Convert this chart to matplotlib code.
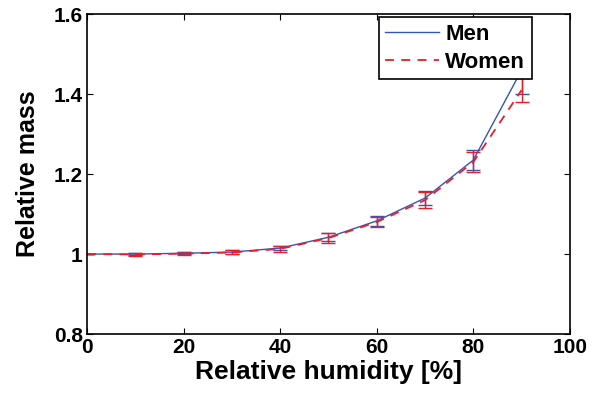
import numpy as np
import matplotlib
matplotlib.use('Agg')
import matplotlib.pyplot as plt

plt.rcParams['font.family'] = ['Liberation Sans', 'DejaVu Sans']
plt.rcParams['font.weight'] = 'bold'

humidity = [0, 10, 20, 30, 40, 50, 60, 70, 80, 90]
men = [1.0, 1.0, 1.002, 1.005, 1.015, 1.042, 1.083, 1.14, 1.235, 1.46]
men_err = [0, 0.003, 0.003, 0.004, 0.006, 0.01, 0.012, 0.018, 0.025, 0.06]
women = [1.0, 0.999, 1.001, 1.004, 1.013, 1.04, 1.08, 1.135, 1.23, 1.41]
women_err = [0, 0.004, 0.004, 0.005, 0.008, 0.012, 0.012, 0.02, 0.025, 0.03]

blue = '#3555b8'
red = '#ee1c24'

fig = plt.figure(figsize=(5.93, 3.93), dpi=100)
ax = fig.add_axes([0.1467, 0.150, 0.8143, 0.814])

ax.errorbar(humidity, men, yerr=men_err, color=blue, lw=1.0, capsize=5,
            elinewidth=1.0, label='Men')
ax.errorbar(humidity, women, yerr=women_err, color=red, lw=1.3, ls=(0, (5, 4)),
            capsize=5, elinewidth=1.0, label='Women')

ax.set_xlim(0, 100)
ax.set_ylim(0.8, 1.6)
ax.set_xticks([0, 20, 40, 60, 80, 100])
ax.set_yticks([0.8, 1.0, 1.2, 1.4, 1.6])
ax.set_yticklabels(['0.8', '1', '1.2', '1.4', '1.6'])
ax.tick_params(direction='in', top=True, right=True, labelsize=15, length=4, width=0.8)
ax.tick_params(axis='x', pad=3)
ax.tick_params(axis='y', pad=3)
for s in ax.spines.values():
    s.set_linewidth(1.2)

ax.set_xlabel('Relative humidity [%]', fontsize=19, fontweight='bold', labelpad=2)
ax.set_ylabel('Relative mass', fontsize=18, fontweight='bold', labelpad=10)

handles, labels = ax.get_legend_handles_labels()
handles = [h[0] for h in handles]
leg = ax.legend(handles, labels, loc='upper right', bbox_to_anchor=(0.921, 0.99),
                fontsize=16, frameon=True, fancybox=False, borderpad=0.3,
                handlelength=2.4, labelspacing=0.3, handletextpad=0.3,
                borderaxespad=0, framealpha=1)
leg.get_frame().set_edgecolor('black')
leg.get_frame().set_linewidth(1.2)

fig.savefig('out.png', dpi=100)
